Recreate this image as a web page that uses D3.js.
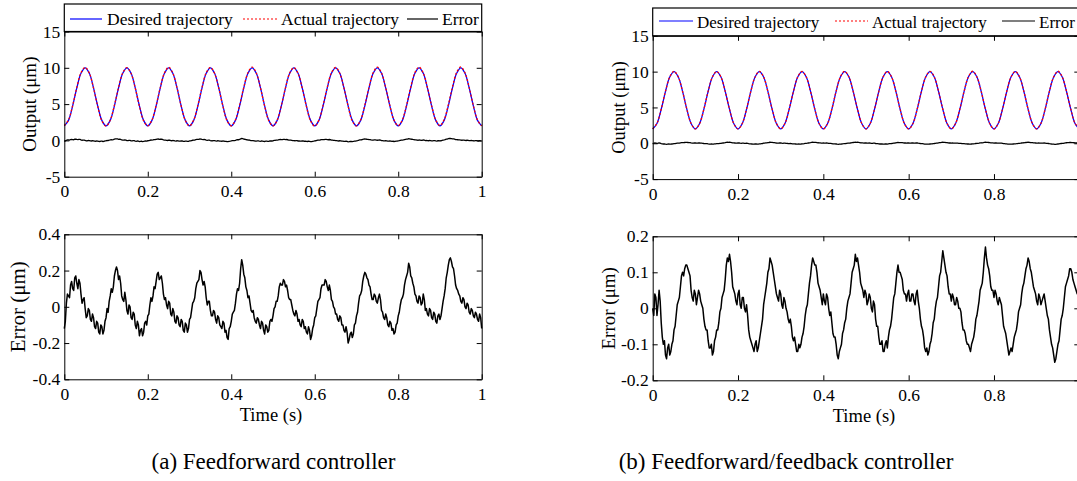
<!DOCTYPE html>
<html><head><meta charset="utf-8">
<script src="https://cdn.jsdelivr.net/npm/d3@7"></script>
<style>
body{margin:0;background:#fff;}
svg{display:block;font-family:"Liberation Serif","Times New Roman",serif;}
</style>
</head><body>
<svg id="c" width="1077" height="481"></svg>
<script>
// ---------- data ----------
const seriesNames = ["Desired trajectory", "Actual trajectory", "Error"];
const timeTicks = [0, 0.2, 0.4, 0.6, 0.8, 1];
const timeTickLabelsA = ["0", "0.2", "0.4", "0.6", "0.8", "1"];
const timeTickLabelsB = ["0", "0.2", "0.4", "0.6", "0.8", ""];   // "1" falls outside the picture
const outputTicks = [-5, 0, 5, 10, 15];
const outputTickLabels = ["-5", "0", "5", "10", "15"];
const errorTicksA = [-0.4, -0.2, 0, 0.2, 0.4];
const errorTickLabelsA = ["-0.4", "-0.2", "0", "0.2", "0.4"];
const errorTicksB = [-0.2, -0.1, 0, 0.1, 0.2];
const errorTickLabelsB = ["-0.2", "-0.1", "0", "0.1", "0.2"];
const captions = ["(a) Feedforward controller", "(b) Feedforward/feedback controller"];
const trajStep = 0.01;    // s between trajectory samples
const errStep = 0.0025;   // s between error samples

const desiredA = [
 2,2.76,4.76,7.24,9.24,10,9.24,7.24,4.76,2.76,
 2,2.76,4.76,7.24,9.24,10,9.24,7.24,4.76,2.76,
 2,2.76,4.76,7.24,9.24,10,9.24,7.24,4.76,2.76,
 2,2.76,4.76,7.24,9.24,10,9.24,7.24,4.76,2.76,
 2,2.76,4.76,7.24,9.24,10,9.24,7.24,4.76,2.76,
 2,2.76,4.76,7.24,9.24,10,9.24,7.24,4.76,2.76,
 2,2.76,4.76,7.24,9.24,10,9.24,7.24,4.76,2.76,
 2,2.76,4.76,7.24,9.24,10,9.24,7.24,4.76,2.76,
 2,2.76,4.76,7.24,9.24,10,9.24,7.24,4.76,2.76,
 2,2.76,4.76,7.24,9.24,10,9.24,7.24,4.76,2.76,
 2];
const actualA = [
 2.05,2.8,4.8,7.3,9.3,10.05,9.25,7.22,4.72,2.7,
 1.98,2.8,4.82,7.3,9.28,10.02,9.22,7.2,4.7,2.72,
 2.02,2.82,4.8,7.28,9.3,10.08,9.26,7.25,4.74,2.74,
 2.0,2.8,4.82,7.3,9.3,10.05,9.24,7.22,4.72,2.7,
 2.02,2.82,4.85,7.32,9.32,10.1,9.28,7.24,4.72,2.72,
 2.0,2.78,4.8,7.28,9.28,10.02,9.22,7.2,4.7,2.7,
 1.98,2.8,4.82,7.3,9.3,10.04,9.24,7.22,4.7,2.68,
 2.0,2.82,4.84,7.32,9.32,10.08,9.28,7.26,4.78,2.78,
 2.02,2.84,4.86,7.34,9.34,10.1,9.28,7.26,4.78,2.8,
 2.04,2.86,4.88,7.36,9.36,10.12,9.3,7.28,4.8,2.78,
 2.0];
const errorA = [
 -0.12,-0.08,0.02,0.07,0.06,0.05,0.12,0.14,0.10,0.09,0.16,0.17,0.13,0.10,0.15,0.13,0.07,0.02,0.04,0.05,-0.01,-0.06,-0.05,-0.01,-0.02,-0.07,-0.08,-0.04,-0.06,-0.11,-0.12,-0.08,-0.09,-0.14,-0.15,-0.10,-0.11,-0.15,-0.13,-0.08,
 -0.06,-0.01,-0.03,0.03,0.06,0.10,0.08,0.11,0.17,0.20,0.22,0.20,0.15,0.17,0.13,0.06,0.04,0.03,0.08,0.04,-0.02,-0.04,0.01,0.00,-0.06,-0.07,-0.03,-0.04,-0.10,-0.12,-0.08,-0.10,-0.16,-0.13,-0.12,-0.16,-0.14,-0.09,-0.08,-0.10,
 -0.05,-0.04,0.01,0.05,0.03,0.06,0.11,0.10,0.14,0.18,0.19,0.15,0.16,0.17,0.13,0.07,0.04,0.05,0.01,-0.01,0.03,0.02,-0.04,-0.05,-0.01,-0.03,-0.08,-0.09,-0.05,-0.06,-0.10,-0.11,-0.07,-0.08,-0.13,-0.14,-0.09,-0.10,-0.14,-0.12,
 -0.07,-0.06,-0.02,0.02,0.03,0.05,0.10,0.13,0.14,0.15,0.20,0.19,0.15,0.12,0.14,0.11,0.05,0.01,0.03,0.03,-0.02,-0.05,-0.05,-0.02,-0.03,-0.07,-0.09,-0.05,-0.06,-0.10,-0.11,-0.12,-0.08,-0.09,-0.14,-0.13,-0.17,-0.18,-0.12,-0.11,
 -0.08,-0.04,-0.03,-0.02,0.02,0.07,0.10,0.09,0.13,0.21,0.26,0.23,0.18,0.16,0.11,0.09,0.05,0.06,0.02,-0.02,-0.03,-0.02,-0.06,-0.08,-0.09,-0.06,-0.07,-0.10,-0.12,-0.08,-0.09,-0.13,-0.15,-0.10,-0.11,-0.14,-0.13,-0.08,-0.07,-0.08,
 -0.05,-0.01,0.00,0.03,0.03,0.06,0.11,0.13,0.12,0.12,0.15,0.14,0.11,0.12,0.09,0.05,0.04,0.04,0.01,-0.02,-0.04,-0.05,-0.02,-0.04,-0.08,-0.07,-0.10,-0.11,-0.07,-0.08,-0.12,-0.11,-0.14,-0.15,-0.11,-0.13,-0.18,-0.16,-0.12,-0.10,
 -0.06,-0.05,-0.01,0.03,0.04,0.05,0.10,0.12,0.12,0.12,0.15,0.14,0.11,0.09,0.12,0.09,0.04,0.03,0.00,-0.01,-0.04,-0.04,-0.07,-0.08,-0.05,-0.06,-0.10,-0.10,-0.13,-0.14,-0.11,-0.14,-0.20,-0.18,-0.15,-0.14,-0.17,-0.15,-0.10,-0.09,
 -0.05,-0.03,0.02,0.06,0.07,0.09,0.14,0.17,0.19,0.18,0.16,0.15,0.12,0.11,0.07,0.04,0.04,0.07,0.06,0.03,0.02,0.05,0.07,0.04,-0.02,-0.03,-0.06,-0.07,-0.04,-0.06,-0.10,-0.11,-0.08,-0.09,-0.13,-0.12,-0.15,-0.14,-0.10,-0.09,
 -0.05,-0.03,0.01,0.04,0.05,0.07,0.12,0.15,0.17,0.19,0.24,0.22,0.17,0.16,0.13,0.11,0.07,0.06,0.03,0.02,0.06,0.05,0.01,0.02,0.07,0.04,-0.02,-0.01,-0.04,-0.05,-0.01,-0.02,-0.06,-0.07,-0.03,-0.04,-0.08,-0.09,-0.05,-0.04,
 -0.07,-0.05,-0.01,0.03,0.06,0.10,0.16,0.19,0.23,0.26,0.27,0.25,0.22,0.21,0.17,0.12,0.10,0.09,0.07,0.06,0.03,0.02,0.05,0.04,0.00,-0.01,0.02,0.01,-0.03,-0.04,-0.01,-0.02,-0.05,-0.06,-0.03,-0.04,-0.07,-0.08,-0.04,-0.06,
 -0.12];

const desiredB = desiredA.slice();
const actualB = [
 2.02,2.78,4.78,7.26,9.26,10.03,9.25,7.25,4.77,2.77,
 2.01,2.77,4.77,7.25,9.25,10.02,9.24,7.24,4.76,2.76,
 2.0,2.76,4.77,7.25,9.26,10.03,9.25,7.24,4.76,2.77,
 2.01,2.77,4.78,7.26,9.26,10.02,9.24,7.23,4.75,2.75,
 2.0,2.77,4.78,7.26,9.27,10.04,9.26,7.25,4.77,2.77,
 2.02,2.78,4.78,7.25,9.25,10.02,9.24,7.24,4.76,2.76,
 2.0,2.76,4.76,7.25,9.26,10.04,9.26,7.26,4.77,2.77,
 2.01,2.77,4.78,7.26,9.27,10.05,9.26,7.24,4.76,2.76,
 2.0,2.77,4.78,7.26,9.26,10.03,9.25,7.25,4.77,2.77,
 2.02,2.78,4.79,7.27,9.27,10.05,9.26,7.25,4.78,2.79,
 2.03];
const errorB = [
 0.00,-0.02,0.04,0.03,-0.02,0.01,0.05,0.02,-0.04,-0.08,-0.10,-0.09,-0.13,-0.14,-0.11,-0.10,-0.13,-0.12,-0.10,-0.09,-0.06,-0.05,-0.02,0.01,0.02,0.03,0.06,0.09,0.10,0.09,0.11,0.12,0.12,0.11,0.10,0.09,0.05,0.03,0.02,0.05,
 0.04,0.01,0.03,0.05,0.04,0.02,0.01,0.00,-0.03,-0.05,-0.06,-0.06,-0.09,-0.11,-0.11,-0.10,-0.13,-0.12,-0.09,-0.08,-0.06,-0.06,-0.04,-0.01,0.00,0.03,0.04,0.05,0.08,0.12,0.14,0.13,0.15,0.13,0.10,0.06,0.05,0.04,0.02,0.01,
 0.04,0.05,0.01,0.00,0.03,0.03,0.00,-0.01,0.01,-0.02,-0.06,-0.08,-0.09,-0.10,-0.11,-0.12,-0.10,-0.09,-0.12,-0.11,-0.09,-0.07,-0.05,-0.03,0.01,0.03,0.05,0.07,0.10,0.11,0.14,0.13,0.12,0.10,0.08,0.06,0.04,0.03,0.02,0.05,
 0.04,0.01,0.00,0.03,0.02,0.00,-0.01,-0.03,-0.04,-0.03,-0.05,-0.08,-0.09,-0.08,-0.10,-0.12,-0.12,-0.10,-0.11,-0.10,-0.08,-0.07,-0.05,-0.02,0.00,0.01,0.04,0.07,0.09,0.12,0.14,0.13,0.12,0.12,0.10,0.07,0.06,0.05,0.03,0.01,
 0.04,0.02,0.01,0.04,0.03,0.00,-0.02,-0.01,-0.04,-0.07,-0.08,-0.08,-0.10,-0.13,-0.14,-0.12,-0.11,-0.10,-0.07,-0.06,-0.04,-0.03,0.00,0.02,0.03,0.04,0.07,0.10,0.11,0.12,0.15,0.13,0.14,0.12,0.10,0.07,0.06,0.05,0.03,0.05,
 0.04,0.01,0.02,0.04,0.03,0.00,-0.01,0.02,0.01,-0.03,-0.05,-0.05,-0.08,-0.10,-0.10,-0.09,-0.12,-0.12,-0.10,-0.09,-0.11,-0.08,-0.06,-0.05,-0.03,0.00,0.03,0.04,0.07,0.10,0.12,0.10,0.10,0.09,0.08,0.05,0.04,0.04,0.02,0.04,
 0.05,0.02,0.02,0.04,0.04,0.02,0.01,0.04,0.05,0.02,0.00,-0.03,-0.05,-0.06,-0.08,-0.11,-0.12,-0.11,-0.13,-0.12,-0.10,-0.09,-0.07,-0.04,-0.03,0.00,0.02,0.03,0.06,0.09,0.10,0.13,0.16,0.14,0.12,0.10,0.09,0.06,0.04,0.04,
 0.02,0.04,0.03,0.01,0.01,0.03,0.02,0.00,0.00,-0.01,-0.04,-0.06,-0.06,-0.07,-0.09,-0.10,-0.10,-0.11,-0.12,-0.10,-0.09,-0.08,-0.06,-0.03,-0.02,0.00,0.02,0.05,0.06,0.07,0.10,0.14,0.17,0.14,0.12,0.11,0.09,0.06,0.05,0.05,
 0.03,0.05,0.04,0.02,0.01,0.03,0.02,0.01,-0.02,-0.05,-0.06,-0.07,-0.09,-0.11,-0.13,-0.12,-0.11,-0.12,-0.10,-0.08,-0.07,-0.06,-0.04,-0.01,0.00,0.01,0.04,0.06,0.07,0.09,0.11,0.12,0.14,0.13,0.11,0.10,0.08,0.06,0.05,0.04,
 0.02,0.01,0.04,0.03,0.01,0.02,0.03,0.04,0.02,0.00,-0.02,-0.03,-0.06,-0.08,-0.10,-0.11,-0.13,-0.15,-0.14,-0.12,-0.10,-0.09,-0.06,-0.03,-0.02,0.00,0.03,0.06,0.07,0.08,0.09,0.11,0.11,0.10,0.08,0.07,0.06,0.05,0.04,0.04,
 0.03];

// ---------- layout ----------
const FONT = '"Liberation Serif","Times New Roman",serif';
const svg = d3.select("#c");

const panels = [
 {x0:64.3, x1:481.7, y0:31.5, y1:176.7, domain:[-5,15], ticks:outputTicks, tickLabels:outputTickLabels, xLabels:timeTickLabelsA,
  label:"Output (\u03bcm)", labelX:29, labelSize:19, kind:"top", desired:desiredA, actual:actualA, err:errorA,
  legend:{top:4, lineY:19, textY:25, size:17.5, lines:[[70,102],[243,277],[407,438]], texts:[107,281,442]}},
 {x0:64.3, x1:481.7, y0:234.3, y1:379.3, domain:[-0.4,0.4], ticks:errorTicksA, tickLabels:errorTickLabelsA, xLabels:timeTickLabelsA,
  label:"Error (\u03bcm)", labelX:18, labelSize:21, kind:"bottom", err:errorA, xlabelY:421},
 {x0:652.7, x1:1079.3, y0:35.8, y1:179.1, domain:[-5,15], ticks:outputTicks, tickLabels:outputTickLabels, xLabels:timeTickLabelsB,
  label:"Output (\u03bcm)", labelX:619, labelSize:18.5, kind:"top", desired:desiredB, actual:actualB, err:errorB,
  legend:{top:8, lineY:21, textY:28, size:17, lines:[[659,693],[835,868],[1002,1035]], texts:[697,872,1039]}},
 {x0:652.7, x1:1079.3, y0:236.3, y1:380.3, domain:[-0.2,0.2], ticks:errorTicksB, tickLabels:errorTickLabelsB, xLabels:timeTickLabelsB,
  label:"Error (\u03bcm)", labelX:608, labelSize:19, kind:"bottom", err:errorB, xlabelY:422}
];

function styleAxis(sel){
  sel.attr("font-family", FONT).attr("font-size", 17.5);
  sel.selectAll("path.domain").attr("stroke","#000").attr("stroke-width",1);
  sel.selectAll(".tick line").attr("stroke","#000").attr("stroke-width",1);
  sel.selectAll("text").attr("fill","#000");
}

panels.forEach((p) => {
  const g = svg.append("g");
  const x = d3.scaleLinear().domain([0,1]).range([p.x0, p.x1]);
  const y = d3.scaleLinear().domain(p.domain).range([p.y1, p.y0]);

  // legend box
  if (p.legend){
    const L = p.legend;
    g.append("rect").attr("x",p.x0).attr("y",L.top).attr("width",p.x1-p.x0).attr("height",p.y0-L.top)
      .attr("fill","#fff").attr("stroke","#000").attr("stroke-width",1.2);
    const styles = [{c:"#0000ff",d:null},{c:"#ff0000",d:"2,2"},{c:"#000",d:null}];
    seriesNames.forEach((n,i)=>{
      g.append("line").attr("x1",L.lines[i][0]).attr("x2",L.lines[i][1]).attr("y1",L.lineY).attr("y2",L.lineY)
        .attr("stroke",styles[i].c).attr("stroke-width",1.2).attr("stroke-dasharray",styles[i].d);
      g.append("text").attr("x",L.texts[i]).attr("y",L.textY).attr("font-size",L.size).attr("font-family",FONT).text(n);
    });
  }

  // data lines
  const errLine = d3.line().x((d,i)=>x(i*errStep)).y(d=>y(d));
  if (p.kind === "top"){
    const tr = d3.line().x((d,i)=>x(i*trajStep)).y(d=>y(d)).curve(d3.curveCatmullRom);
    g.append("path").datum(p.desired).attr("d",tr).attr("fill","none").attr("stroke","#0000ff").attr("stroke-width",1.3);
    g.append("path").datum(p.actual).attr("d",tr).attr("fill","none").attr("stroke","#ff0000").attr("stroke-width",1.3).attr("stroke-dasharray","2,2");
    g.append("path").datum(p.err).attr("d",errLine).attr("fill","none").attr("stroke","#000").attr("stroke-width",1.3);
  } else {
    g.append("path").datum(p.err).attr("d",errLine).attr("fill","none").attr("stroke","#000").attr("stroke-width",1.5).attr("stroke-linejoin","round");
  }

  // axes (inward ticks, full box)
  const ax = g.append("g").attr("transform",`translate(0,${p.y1})`)
    .call(d3.axisBottom(x).tickValues(timeTicks).tickFormat((d,i)=>p.xLabels[i]).tickSizeInner(-5).tickSizeOuter(0).tickPadding(8));
  styleAxis(ax);
  const ay = g.append("g").attr("transform",`translate(${p.x0},0)`)
    .call(d3.axisLeft(y).tickValues(p.ticks).tickFormat((d,i)=>p.tickLabels[i]).tickSizeInner(-5).tickSizeOuter(0).tickPadding(4));
  styleAxis(ay);
  const at = g.append("g").attr("transform",`translate(0,${p.y0})`)
    .call(d3.axisTop(x).tickValues(timeTicks).tickFormat("").tickSizeInner(-5).tickSizeOuter(0));
  styleAxis(at);
  const ar = g.append("g").attr("transform",`translate(${p.x1},0)`)
    .call(d3.axisRight(y).tickValues(p.ticks).tickFormat("").tickSizeInner(-5).tickSizeOuter(0));
  styleAxis(ar);

  // y label
  g.append("text").attr("transform",`translate(${p.labelX},${(p.y0+p.y1)/2}) rotate(-90)`)
    .attr("text-anchor","middle").attr("dy","0.35em").attr("font-size",p.labelSize).attr("font-family",FONT).text(p.label);

  if (p.kind === "bottom"){
    g.append("text").attr("x",(p.x0+p.x1)/2 - 2).attr("y",p.xlabelY).attr("text-anchor","middle")
      .attr("font-size",18.5).attr("font-family",FONT).text("Time (s)");
  }
});

// captions
svg.append("text").attr("x",273.5).attr("y",469).attr("text-anchor","middle").attr("font-size",23).attr("font-family",FONT).text(captions[0]);
svg.append("text").attr("x",786).attr("y",469).attr("text-anchor","middle").attr("font-size",23).attr("font-family",FONT).text(captions[1]);
</script>
</body></html>
